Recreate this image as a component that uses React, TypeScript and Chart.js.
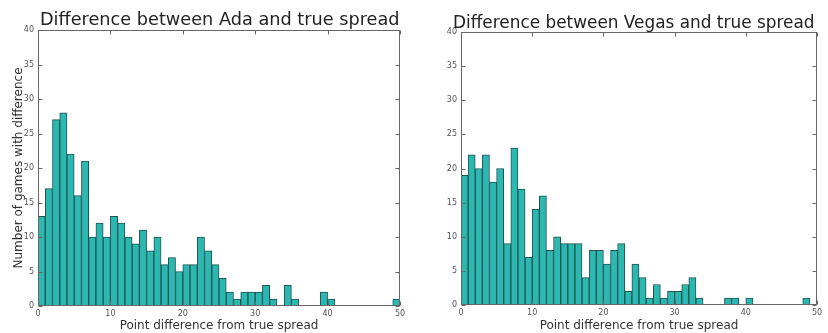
import React, { useEffect, useRef } from "react";
import { Chart, registerables } from "chart.js";

Chart.register(...registerables);

// bin starts (width 1), 0..49
const bins: number[] = [
  0, 1, 2, 3, 4, 5, 6, 7, 8, 9, 10, 11, 12, 13, 14, 15, 16, 17, 18, 19, 20, 21, 22, 23, 24,
  25, 26, 27, 28, 29, 30, 31, 32, 33, 34, 35, 36, 37, 38, 39, 40, 41, 42, 43, 44, 45, 46, 47, 48, 49,
];

const adaCounts: number[] = [
  13, 17, 27, 28, 22, 16, 21, 10, 12, 10, 13, 12, 10, 9, 11, 8, 10, 6, 7, 5, 6, 6, 10, 8, 6,
  4, 2, 1, 2, 2, 2, 3, 1, 0, 3, 1, 0, 0, 0, 2, 1, 0, 0, 0, 0, 0, 0, 0, 0, 1,
];

const vegasCounts: number[] = [
  19, 22, 20, 22, 18, 20, 9, 23, 17, 7, 14, 16, 8, 10, 9, 9, 9, 4, 8, 8, 6, 8, 9, 2, 6,
  4, 1, 3, 1, 2, 2, 3, 4, 1, 0, 0, 0, 1, 1, 0, 1, 0, 0, 0, 0, 0, 0, 0, 1, 0,
];

const xTicks: number[] = [0, 10, 20, 30, 40, 50];
const yTicks: number[] = [0, 5, 10, 15, 20, 25, 30, 35, 40];

const adaTitle = "Difference between Ada and true spread";
const vegasTitle = "Difference between Vegas and true spread";
const xTitle = "Point difference from true spread";
const yTitle = "Number of games with difference";

const FONT = '"DejaVu Sans", sans-serif';

type PanelProps = {
  counts: number[];
  title: string;
  titleSize: number;
  titleX: number;
  titleBaseline: number;
  padTop: number;
  padRight: number;
  yWidth: number;
  xHeight: number;
  showYTitle: boolean;
};

function Panel(p: PanelProps) {
  const ref = useRef<HTMLCanvasElement | null>(null);

  useEffect(() => {
    const canvas = ref.current;
    if (!canvas) return;

    const framePlugin = {
      id: "frame",
      afterDraw(chart: any) {
        const { ctx, chartArea: a, scales } = chart;
        const x = scales.x;
        const y = scales.y;
        ctx.save();
        ctx.strokeStyle = "#666";
        ctx.lineWidth = 1;
        const l = Math.round(a.left) + 0.5;
        const r = Math.round(a.right) - 0.5;
        const t = Math.round(a.top) + 0.5;
        const b = Math.round(a.bottom) - 0.5;
        ctx.strokeRect(l, t, r - l, b - t);
        ctx.beginPath();
        const tl = 4;
        xTicks.forEach((v) => {
          const px = Math.round(x.getPixelForValue(v)) + 0.5;
          ctx.moveTo(px, b);
          ctx.lineTo(px, b - tl);
          ctx.moveTo(px, t);
          ctx.lineTo(px, t + tl);
        });
        yTicks.forEach((v) => {
          const py = Math.round(y.getPixelForValue(v)) + 0.5;
          ctx.moveTo(l, py);
          ctx.lineTo(l + tl, py);
          ctx.moveTo(r, py);
          ctx.lineTo(r - tl, py);
        });
        ctx.stroke();
        ctx.fillStyle = "#222";
        ctx.font = `${p.titleSize}px ${FONT}`;
        ctx.textAlign = "left";
        ctx.textBaseline = "alphabetic";
        ctx.fillText(p.title, p.titleX, p.titleBaseline);
        ctx.restore();
      },
    };

    const data = bins.map((b, i) => ({ x: b + 0.5, y: p.counts[i] === 0 ? null : p.counts[i] }));

    const chart = new Chart(canvas, {
      type: "bar",
      data: {
        datasets: [
          {
            data: data as any,
            backgroundColor: "#2db7b1",
            borderColor: "#1d5553",
            borderWidth: 1,
            barPercentage: 1,
            categoryPercentage: 1,
          },
        ],
      },
      options: {
        responsive: false,
        animation: false,
        events: [],
        layout: { padding: { top: p.padTop, right: p.padRight, left: 0, bottom: 0 } },
        plugins: {
          legend: { display: false },
          title: { display: false },
          tooltip: { enabled: false },
        },
        scales: {
          x: {
            type: "linear",
            min: 0,
            max: 50,
            offset: false,
            grid: { display: false, drawTicks: false },
            border: { display: false },
            afterBuildTicks: (s: any) => {
              s.ticks = xTicks.map((v) => ({ value: v }));
            },
            afterFit: (s: any) => {
              s.height = p.xHeight;
            },
            ticks: {
              padding: 3,
              maxRotation: 0,
              color: "#555",
              font: { family: FONT, size: 8 },
            },
            title: {
              display: true,
              text: xTitle,
              color: "#333",
              font: { family: FONT, size: 12 },
              padding: { top: 0, bottom: 0 },
            },
          },
          y: {
            type: "linear",
            min: 0,
            max: 40,
            grid: { display: false, drawTicks: false },
            border: { display: false },
            afterBuildTicks: (s: any) => {
              s.ticks = yTicks.map((v) => ({ value: v }));
            },
            afterFit: (s: any) => {
              s.width = p.yWidth;
            },
            ticks: {
              padding: 4,
              color: "#555",
              font: { family: FONT, size: 8 },
            },
            title: {
              display: p.showYTitle,
              text: yTitle,
              color: "#333",
              font: { family: FONT, size: 12 },
              padding: { top: 12, bottom: 0 },
            },
          },
        },
      },
      plugins: [framePlugin],
    });

    return () => chart.destroy();
  }, []);

  return <canvas ref={ref} width={414} height={333} style={{ display: "block", width: 414, height: 333 }} />;
}

export default function App() {
  return (
    <div
      style={{
        position: "absolute",
        left: 0,
        top: 0,
        width: 828,
        height: 333,
        background: "#fff",
        display: "flex",
      }}
    >
      <Panel
        counts={adaCounts}
        title={adaTitle}
        titleSize={17.7}
        titleX={40}
        titleBaseline={25}
        padTop={30}
        padRight={14}
        yWidth={38}
        xHeight={27}
        showYTitle={true}
      />
      <Panel
        counts={vegasCounts}
        title={vegasTitle}
        titleSize={16.9}
        titleX={39}
        titleBaseline={28}
        padTop={32}
        padRight={11}
        yWidth={47}
        xHeight={28}
        showYTitle={false}
      />
    </div>
  );
}
